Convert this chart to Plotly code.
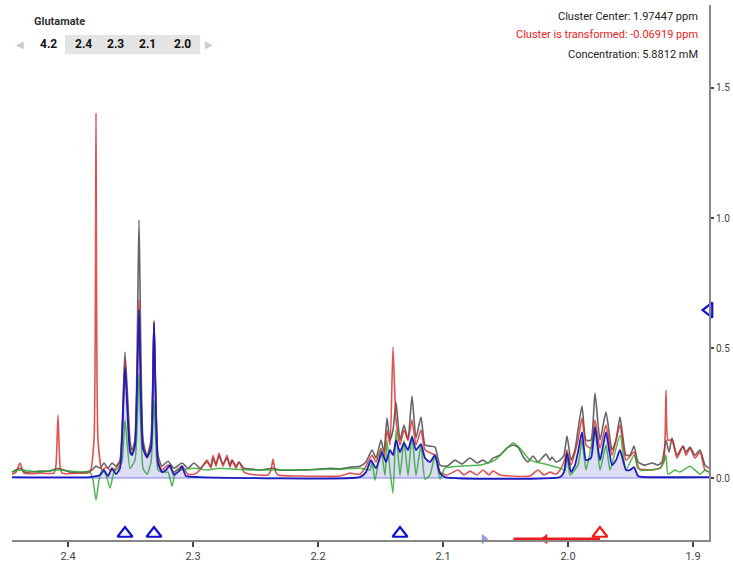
import plotly.graph_objects as go

# ---- spectrum data (ppm, intensity) ----
black_ppm = [2.4448, 2.4384, 2.4344, 2.4224, 2.4144, 2.408, 2.3984, 2.3864, 2.3808, 2.3776, 2.3744, 2.3712, 2.368, 2.3648, 2.3616, 2.3584,
             2.3544, 2.3504, 2.3488, 2.3464, 2.3432, 2.34, 2.3368, 2.3336, 2.3312, 2.328, 2.3248, 2.32, 2.3152, 2.3088, 2.304, 2.2992,
             2.2944, 2.2888, 2.2856, 2.284, 2.2816, 2.2792, 2.276, 2.2728, 2.2704, 2.2688, 2.2656, 2.2632, 2.2592, 2.2544, 2.2464, 2.236,
             2.2304, 2.2144, 2.1984, 2.1904, 2.1824, 2.1744, 2.1664, 2.1616, 2.1568, 2.1536, 2.1496, 2.1472, 2.1448, 2.1424, 2.14, 2.1376,
             2.1344, 2.1312, 2.128, 2.1248, 2.1216, 2.1176, 2.1144, 2.1104, 2.1064, 2.1024, 2.0968, 2.0904, 2.0848, 2.0784, 2.0728, 2.068,
             2.064, 2.06, 2.0544, 2.0488, 2.044, 2.04, 2.0352, 2.032, 2.028, 2.024, 2.0176, 2.0144, 2.0128, 2.0096, 2.0064, 2.0032,
             2.0008, 1.9976, 1.9944, 1.992, 1.9888, 1.9856, 1.9816, 1.9784, 1.9744, 1.9696, 1.9648, 1.9616, 1.9584, 1.9536, 1.9504, 1.9472,
             1.944, 1.9384, 1.9328, 1.928, 1.9248, 1.9216, 1.9192, 1.9168, 1.9128, 1.908, 1.9056, 1.9024, 1.8984, 1.8944, 1.8904, 1.8872]
black_int = [0.023, 0.038, 0.023, 0.027, 0.027, 0.038, 0.023, 0.023, 0.031, 0.046, 0.038, 0.058, 0.038, 0.058, 0.046, 0.069,
             0.485, 0.146, 0.108, 0.146, 0.992, 0.146, 0.085, 0.146, 0.600, 0.088, 0.046, 0.065, 0.038, 0.058, 0.038, 0.058,
             0.038, 0.062, 0.046, 0.077, 0.054, 0.085, 0.054, 0.077, 0.050, 0.069, 0.046, 0.062, 0.038, 0.035, 0.031, 0.038,
             0.031, 0.031, 0.035, 0.038, 0.035, 0.042, 0.046, 0.062, 0.108, 0.077, 0.146, 0.100, 0.231, 0.146, 0.185, 0.292,
             0.146, 0.204, 0.146, 0.315, 0.154, 0.235, 0.127, 0.123, 0.119, 0.050, 0.046, 0.069, 0.054, 0.077, 0.058, 0.069,
             0.058, 0.077, 0.088, 0.115, 0.127, 0.119, 0.077, 0.062, 0.085, 0.062, 0.092, 0.069, 0.081, 0.062, 0.069, 0.088,
             0.162, 0.069, 0.108, 0.185, 0.277, 0.146, 0.146, 0.327, 0.146, 0.254, 0.108, 0.146, 0.235, 0.088, 0.088, 0.123,
             0.062, 0.050, 0.058, 0.050, 0.062, 0.146, 0.100, 0.154, 0.088, 0.123, 0.100, 0.119, 0.088, 0.108, 0.050, 0.038]

red_ppm = [2.4448, 2.4416, 2.4384, 2.4352, 2.4224, 2.4112, 2.4096, 2.408, 2.4064, 2.4048, 2.3904, 2.3824, 2.3792, 2.3776, 2.376, 2.3728,
           2.3696, 2.3664, 2.3632, 2.3584, 2.3544, 2.3504, 2.3488, 2.3464, 2.3432, 2.34, 2.3368, 2.3336, 2.3312, 2.328, 2.3248, 2.32,
           2.3152, 2.3088, 2.304, 2.2992, 2.2944, 2.2888, 2.2856, 2.284, 2.2816, 2.2792, 2.276, 2.2728, 2.2704, 2.2688, 2.2656, 2.2632,
           2.2592, 2.2544, 2.24, 2.2376, 2.236, 2.2344, 2.232, 2.2144, 2.1824, 2.1744, 2.1664, 2.1616, 2.1568, 2.1536, 2.1496, 2.1472,
           2.1448, 2.1424, 2.14, 2.1376, 2.1344, 2.1312, 2.128, 2.1248, 2.1216, 2.1176, 2.1144, 2.1064, 2.1024, 2.0968, 2.088, 2.0832,
           2.0784, 2.0728, 2.068, 2.0632, 2.06, 2.0544, 2.0464, 2.0304, 2.024, 2.0192, 2.0144, 2.0096, 2.0064, 2.0032, 2.0008, 1.9976,
           1.992, 1.9888, 1.9856, 1.9816, 1.9784, 1.9744, 1.9696, 1.9648, 1.9584, 1.9536, 1.9472, 1.944, 1.9344, 1.9264, 1.9232, 1.9216,
           1.92, 1.9168, 1.9128, 1.908, 1.9056, 1.9024, 1.8984, 1.8944, 1.8904, 1.8872]
red_int = [0.015, 0.023, 0.058, 0.019, 0.019, 0.019, 0.050, 0.242, 0.050, 0.019, 0.019, 0.023, 0.146, 1.404, 0.146, 0.031,
           0.042, 0.031, 0.031, 0.062, 0.454, 0.115, 0.092, 0.127, 0.685, 0.127, 0.077, 0.127, 0.608, 0.069, 0.031, 0.050,
           0.023, 0.046, 0.015, 0.015, 0.031, 0.069, 0.038, 0.088, 0.046, 0.096, 0.046, 0.088, 0.042, 0.069, 0.038, 0.062,
           0.023, 0.015, 0.012, 0.031, 0.073, 0.031, 0.012, 0.008, 0.008, 0.019, 0.015, 0.046, 0.088, 0.062, 0.115, 0.077,
           0.185, 0.127, 0.504, 0.223, 0.127, 0.185, 0.146, 0.223, 0.127, 0.185, 0.108, 0.088, 0.023, 0.012, 0.031, 0.012,
           0.027, 0.012, 0.031, 0.012, 0.027, 0.012, 0.008, 0.008, 0.031, 0.012, 0.023, 0.015, 0.031, 0.062, 0.108, 0.050,
           0.146, 0.231, 0.127, 0.115, 0.223, 0.115, 0.204, 0.088, 0.204, 0.069, 0.100, 0.038, 0.031, 0.038, 0.069, 0.338,
           0.146, 0.146, 0.077, 0.123, 0.088, 0.115, 0.077, 0.100, 0.031, 0.023]

green_ppm = [2.4448, 2.4384, 2.4224, 2.408, 2.3904, 2.3824, 2.38, 2.3776, 2.3752, 2.3728, 2.3696, 2.3664, 2.3632, 2.36, 2.3568, 2.3544,
             2.3504, 2.3464, 2.3432, 2.34, 2.3368, 2.3336, 2.3312, 2.328, 2.3248, 2.32, 2.3168, 2.3136, 2.3088, 2.2992, 2.2888, 2.2792,
             2.2688, 2.2544, 2.236, 2.2144, 2.1824, 2.1664, 2.1584, 2.1568, 2.1544, 2.1496, 2.1464, 2.1448, 2.1424, 2.14, 2.1376, 2.1344,
             2.1312, 2.128, 2.1248, 2.1216, 2.1176, 2.1144, 2.1104, 2.1064, 2.1024, 2.0984, 2.0864, 2.0704, 2.0584, 2.0504, 2.044, 2.0384,
             2.0304, 2.0184, 2.0064, 2.0024, 2.0008, 1.9984, 1.992, 1.9888, 1.9856, 1.9784, 1.9744, 1.9696, 1.9664, 1.9584, 1.9536, 1.9472,
             1.9424, 1.9344, 1.9264, 1.9232, 1.9216, 1.92, 1.9144, 1.9104, 1.9024, 1.8944, 1.8904, 1.8872]
green_int = [0.023, 0.031, 0.023, 0.031, 0.023, 0.023, -0.008, -0.085, -0.008, 0.031, 0.012, -0.038, 0.023, 0.038, 0.062, 0.223,
             0.038, 0.069, 0.404, 0.038, 0.015, 0.062, 0.300, 0.031, 0.023, 0.023, -0.031, 0.031, 0.031, 0.038, 0.031, 0.038,
             0.035, 0.031, 0.031, 0.031, 0.035, 0.038, 0.031, 0.062, -0.008, 0.108, 0.010, 0.146, 0.031, -0.058, 0.185, 0.010,
             0.146, 0.010, 0.165, 0.010, 0.127, -0.004, 0.012, 0.088, -0.004, 0.038, 0.046, 0.050, 0.069, 0.108, 0.135, 0.115,
             0.069, 0.054, 0.038, 0.031, 0.088, 0.012, 0.050, 0.146, 0.031, 0.185, 0.031, 0.127, 0.031, 0.165, 0.031, 0.088,
             0.031, 0.031, 0.038, 0.062, 0.088, 0.015, 0.031, 0.023, 0.046, 0.015, 0.031, 0.023]

blue_ppm = [2.4448, 2.3824, 2.3744, 2.3712, 2.368, 2.3648, 2.3616, 2.3584, 2.3544, 2.3504, 2.3488, 2.3464, 2.3432, 2.34, 2.3368, 2.3336,
            2.3312, 2.328, 2.3248, 2.3216, 2.3184, 2.3152, 2.3104, 2.3088, 2.3056, 2.2944, 2.1664, 2.1616, 2.1576, 2.1536, 2.1488, 2.1456,
            2.1424, 2.14, 2.1376, 2.1344, 2.1312, 2.128, 2.1248, 2.1216, 2.1176, 2.1144, 2.1104, 2.1064, 2.1024, 2.0984, 2.0064, 2.0032,
            2.0008, 1.9976, 1.9944, 1.992, 1.9888, 1.9856, 1.9816, 1.9784, 1.9744, 1.9696, 1.9648, 1.9616, 1.9584, 1.9536, 1.9504, 1.9472,
            1.944, 1.9384, 1.8872]
blue_int = [0.004, 0.004, 0.012, 0.031, 0.008, 0.038, 0.015, 0.038, 0.427, 0.100, 0.088, 0.127, 0.646, 0.115, 0.081, 0.115,
            0.596, 0.058, 0.023, 0.031, 0.050, 0.012, 0.031, 0.046, 0.008, 0.004, 0.004, 0.023, 0.069, 0.038, 0.100, 0.062,
            0.108, 0.088, 0.146, 0.100, 0.135, 0.108, 0.158, 0.108, 0.131, 0.077, 0.062, 0.088, 0.019, 0.004, 0.004, 0.023,
            0.096, 0.023, 0.050, 0.100, 0.177, 0.069, 0.077, 0.196, 0.069, 0.177, 0.050, 0.069, 0.108, 0.031, 0.031, 0.042,
            0.008, 0.004, 0.004]

# ---- axes / ticks ----
x_ticks = [2.4, 2.3, 2.2, 2.1, 2.0, 1.9]
x_tick_labels = ["2.4", "2.3", "2.2", "2.1", "2.0", "1.9"]
y_ticks = [0.0, 0.5, 1.0, 1.5]
y_tick_labels = ["0.0", "0.5", "1.0", "1.5"]
x_range = [2.4448, 1.8872]
y_range = [-0.238, 1.819]

# ---- cluster markers ----
peak_marks = [2.3544, 2.3312, 2.1344]
cluster_center = 1.97447
cluster_shift = -0.06919
cluster_original = cluster_center - cluster_shift
arrow_mid = 2.0184
ref_mark = 2.0672
scale_level = 0.646
mark_y = -0.213
line_y = -0.234

tabs = ["4.2", "2.4", "2.3", "2.1", "2.0"]

SPL = dict(shape="spline", smoothing=0.5)

fig = go.Figure()

# baseline
fig.add_trace(go.Scatter(x=x_range, y=[0, 0], mode="lines",
                         line=dict(color="#aaaaee", width=1.5), hoverinfo="skip"))
# blue fill
fig.add_trace(go.Scatter(x=blue_ppm, y=blue_int, mode="lines", fill="tozeroy",
                         fillcolor="rgba(130,130,225,0.28)", line=dict(color="rgba(0,0,0,0)", width=0, **SPL)))
fig.add_trace(go.Scatter(x=black_ppm, y=black_int, mode="lines",
                         line=dict(color="rgba(50,50,50,0.75)", width=1.6, **SPL)))
fig.add_trace(go.Scatter(x=red_ppm, y=red_int, mode="lines",
                         line=dict(color="rgba(215,40,40,0.8)", width=1.6, **SPL)))
fig.add_trace(go.Scatter(x=green_ppm, y=green_int, mode="lines",
                         line=dict(color="rgba(40,165,40,0.8)", width=1.5, **SPL)))
fig.add_trace(go.Scatter(x=blue_ppm, y=blue_int, mode="lines",
                         line=dict(color="#1c1cc0", width=1.8, **SPL)))

# cluster shift line + arrow
fig.add_trace(go.Scatter(x=[cluster_original, cluster_center], y=[line_y, line_y], mode="lines",
                         line=dict(color="#ee1c1c", width=3), cliponaxis=False))
fig.add_trace(go.Scatter(x=[arrow_mid], y=[line_y], mode="markers", cliponaxis=False,
                         marker=dict(symbol="triangle-left", size=9, color="#ee1c1c")))
fig.add_trace(go.Scatter(x=[ref_mark], y=[line_y], mode="markers", cliponaxis=False,
                         marker=dict(symbol="triangle-right", size=9, color="#9a9aee")))
fig.add_trace(go.Scatter(x=peak_marks, y=[mark_y] * len(peak_marks), mode="markers", cliponaxis=False,
                         marker=dict(symbol="triangle-up-open", size=13, color="#1010d0",
                                     line=dict(width=2.2, color="#1010d0"))))
fig.add_trace(go.Scatter(x=[cluster_center], y=[mark_y], mode="markers", cliponaxis=False,
                         marker=dict(symbol="triangle-up-open", size=13, color="#ee1c1c",
                                     line=dict(width=2.2, color="#ee1c1c"))))
fig.add_trace(go.Scatter(x=[x_range[1]], y=[scale_level], mode="markers", cliponaxis=False,
                         marker=dict(symbol="triangle-left-open", size=13, color="#1010d0",
                                     line=dict(width=2.2, color="#1010d0"))))

FONT = "Roboto, Arial, sans-serif"

annotations = []
annotations.append(dict(text="<b>Glutamate</b>", x=0.0287, y=0.970, xref="paper", yref="paper",
                        xanchor="left", yanchor="middle", showarrow=False,
                        font=dict(family=FONT, size=11, color="#333333")))
annotations.append(dict(text="◀", x=0.0115, y=0.927, xref="paper", yref="paper", showarrow=False,
                        xanchor="center", yanchor="middle",
                        font=dict(family=FONT, size=10, color="#cccccc")))
annotations.append(dict(text="▶", x=0.283, y=0.927, xref="paper", yref="paper", showarrow=False,
                        xanchor="center", yanchor="middle",
                        font=dict(family=FONT, size=10, color="#cccccc")))
tab_x = [0.053, 0.102, 0.148, 0.194, 0.244]
for t, tx in zip(tabs, tab_x):
    annotations.append(dict(text="<b>%s</b>" % t, x=tx, y=0.927, xref="paper", yref="paper",
                            xanchor="center", yanchor="middle",
                            showarrow=False, font=dict(family=FONT, size=12, color="#111111")))
info = [("Cluster Center: %.5f ppm" % cluster_center, "#222222", 0.979),
        ("Cluster is transformed: %.5f ppm" % cluster_shift, "#ee2222", 0.944),
        ("Concentration: 5.8812 mM", "#222222", 0.907)]
for txt, col, yy in info:
    annotations.append(dict(text=txt, x=0.987, y=yy, xref="paper", yref="paper", xanchor="right",
                            yanchor="middle", showarrow=False, font=dict(family=FONT, size=11, color=col)))

fig.update_layout(
    width=733, height=564,
    margin=dict(l=12, r=24, t=5, b=24),
    paper_bgcolor="white", plot_bgcolor="white",
    showlegend=False,
    annotations=annotations,
    shapes=[dict(type="rect", xref="paper", yref="paper", x0=0.076, x1=0.270, y0=0.908, y1=0.944,
                 fillcolor="#e4e4e4", line=dict(width=0), layer="below")],
    xaxis=dict(range=x_range, tickvals=x_ticks, ticktext=x_tick_labels, showgrid=False, zeroline=False,
               automargin=False,
               showline=True, linecolor="#888888", linewidth=2, ticks="outside", ticklen=5, tickwidth=2,
               tickcolor="#444444", tickfont=dict(family=FONT, size=11, color="#444444")),
    yaxis=dict(range=y_range, tickvals=y_ticks, ticktext=y_tick_labels, side="right", showgrid=False,
               automargin=False,
               zeroline=False, showline=True, linecolor="#888888", linewidth=2, ticks="outside", ticklen=3,
               tickwidth=2, tickcolor="#444444", tickfont=dict(family=FONT, size=10, color="#444444")),
)

fig.write_html("out.html")
